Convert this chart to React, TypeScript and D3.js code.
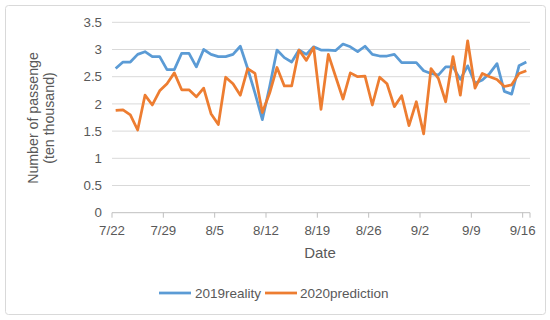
import * as d3 from "d3";

const width = 550;
const height = 320;
const marginLeft = 112;
const marginRight = 20;
const marginTop = 22.3;
const yBottom = 212.7;

const startDate = new Date(2019, 6, 22);
const endDate = new Date(2019, 8, 17);

const reality2019 = [
  2.65, 2.77, 2.77, 2.91, 2.96, 2.87, 2.87, 2.63, 2.63, 2.93,
  2.93, 2.68, 3.0, 2.91, 2.87, 2.87, 2.91, 3.06, 2.65, 2.2,
  1.71, 2.32, 2.99, 2.85, 2.77, 2.99, 2.91, 3.05, 2.99, 2.99,
  2.98, 3.1, 3.05, 2.96, 3.06, 2.91, 2.88, 2.88, 2.91, 2.76,
  2.76, 2.76, 2.61, 2.56, 2.53, 2.68, 2.68, 2.45, 2.7, 2.38,
  2.44, 2.56, 2.74, 2.23, 2.18, 2.7, 2.77,
];

const prediction2020 = [
  1.88, 1.89, 1.8, 1.52, 2.16, 1.98, 2.24, 2.37, 2.57, 2.26,
  2.26, 2.13, 2.29, 1.82, 1.62, 2.49, 2.37, 2.16, 2.65, 2.56,
  1.84, 2.2, 2.67, 2.33, 2.33, 2.99, 2.8, 3.04, 1.9, 2.91,
  2.5, 2.09, 2.57, 2.5, 2.51, 1.98, 2.49, 2.37, 1.95, 2.15,
  1.6, 2.04, 1.45, 2.65, 2.47, 2.04, 2.87, 2.16, 3.16, 2.29,
  2.56, 2.5, 2.45, 2.32, 2.35, 2.56, 2.61,
];

const yTicks = [0, 0.5, 1, 1.5, 2, 2.5, 3, 3.5];
const seriesNames = ["2019reality", "2020prediction"];
const colors = ["#5B9BD5", "#ED7D31"];

const font = "'Liberation Sans', Arial, sans-serif";
const textColor = "#595959";

const App = () => {
  const x = d3.scaleTime([startDate, endDate], [marginLeft, width - marginRight]);
  const y = d3.scaleLinear([0, 3.5], [yBottom, marginTop]);
  const xTicks = d3.timeDay.range(startDate, endDate, 7);
  const fmt = d3.timeFormat("%-m/%-d");
  // points sit in the middle of each day
  const dayPoint = (i: number) => x(d3.timeHour.offset(d3.timeDay.offset(startDate, i), 12));
  const line = d3.line<number>((d, i) => dayPoint(i), (d) => y(d));
  const series = [reality2019, prediction2020];

  return (
    <svg width={width} height={height} style={{ position: "absolute", left: 0, top: 0 }} fontFamily={font}>
      <rect x={5.5} y={5.5} width={540} height={309} rx={3} fill="white" stroke="#d9d9d9" />
      {yTicks.map((t) => (
        <g key={t}>
          <line x1={x(startDate)} x2={x(endDate)} y1={y(t)} y2={y(t)} stroke={t === 0 ? "#bfbfbf" : "#d9d9d9"} />
          <text x={102} y={y(t)} dy="0.35em" textAnchor="end" fontSize={13.3} fill={textColor}>{t}</text>
        </g>
      ))}
      {xTicks.concat([endDate]).map((d, i) => (
        <line key={i} x1={x(d)} x2={x(d)} y1={yBottom} y2={yBottom + 5} stroke="#bfbfbf" />
      ))}
      {xTicks.map((d, i) => (
        <text key={i} x={x(d)} y={235} textAnchor="middle" fontSize={13.3} fill={textColor}>{fmt(d)}</text>
      ))}
      <text x={320} y={258} textAnchor="middle" fontSize={15} fill={textColor}>Date</text>
      <g transform="translate(42,118) rotate(-90)">
        <text x={0} y={-4} textAnchor="middle" fontSize={14.2} fill={textColor}>Number of passenge</text>
        <text x={0} y={12} textAnchor="middle" fontSize={14.2} fill={textColor}>(ten thousand)</text>
      </g>
      {series.map((s, k) => (
        <path key={k} d={line(s) as string} fill="none" stroke={colors[k]} strokeWidth={2.75} strokeLinejoin="round" />
      ))}
      <g fontSize={13.5} fill={textColor}>
        <line x1={159} x2={191} y1={293} y2={293} stroke={colors[0]} strokeWidth={2.75} />
        <text x={195} y={293} dy="0.35em">{seriesNames[0]}</text>
        <line x1={265} x2={297} y1={293} y2={293} stroke={colors[1]} strokeWidth={2.75} />
        <text x={300} y={293} dy="0.35em">{seriesNames[1]}</text>
      </g>
    </svg>
  );
};

export default App;
